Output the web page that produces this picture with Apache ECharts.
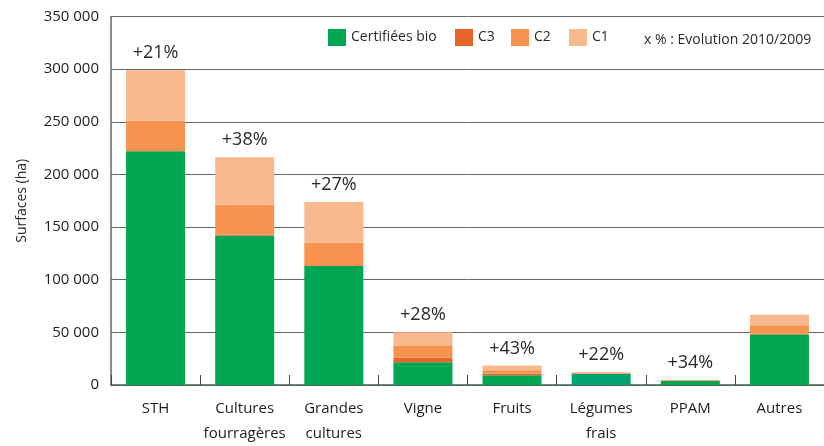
<!DOCTYPE html>
<html>
<head>
<meta charset="utf-8">
<script src="https://cdn.jsdelivr.net/npm/echarts@6/dist/echarts.min.js"></script>
<style>html,body{margin:0;padding:0;background:#fff}#c{width:824px;height:446px}</style>
</head>
<body>
<div id="c"></div>
<script>
const categories = ['STH', 'Cultures\nfourragères', 'Grandes\ncultures', 'Vigne', 'Fruits', 'Légumes\nfrais', 'PPAM', 'Autres'];
const bio = [222000, 142000, 113000, 21500, 9300, 10500, 3700, 48000];
const c3 = [1000, 800, 800, 4500, 1300, 300, 200, 800];
const c2 = [28000, 28500, 21500, 11000, 3400, 500, 500, 8000];
const c1 = [48000, 45000, 38500, 13000, 4600, 700, 600, 10000];
const evolution = ['+21%', '+38%', '+27%', '+28%', '+43%', '+22%', '+34%', ''];
const yTicks = [0, 50000, 100000, 150000, 200000, 250000, 300000, 350000];

const FONT = '"Open Sans", "Noto Sans", sans-serif';
const GREEN = '#00a651', TEAL = '#00a572', C3C = '#e8632a', C2C = '#f7934e', C1C = '#f9b98f';

const chart = echarts.init(document.getElementById('c'), null, {renderer: 'canvas'});
const legendBase = {
  top: 29, padding: 0, itemWidth: 18, itemHeight: 17, icon: 'rect',
  textStyle: {fontFamily: FONT, fontSize: 14, color: '#2a2a2a'}, selectedMode: false
};
chart.setOption({
  animation: false,
  textStyle: {fontFamily: FONT},
  grid: {left: 111, right: -3, top: 16.5, bottom: 53, containLabel: false},
  legend: [
    Object.assign({}, legendBase, {left: 328, data: ['Certifiées bio']}),
    Object.assign({}, legendBase, {left: 455, data: ['C3']}),
    Object.assign({}, legendBase, {left: 511, data: ['C2']}),
    Object.assign({}, legendBase, {left: 569, data: ['C1']})
  ],
  graphic: [{
    type: 'text', left: 644, top: 33,
    style: {text: 'x % : Evolution 2010/2009', fontFamily: FONT, fontSize: 14, fill: '#2a2a2a'}
  }],
  xAxis: {
    type: 'category', data: categories, boundaryGap: true,
    axisLine: {show: true, lineStyle: {color: '#4a6458', width: 1.5}},
    axisTick: {show: true, inside: true, length: 10, lineStyle: {color: '#444'}},
    axisLabel: {color: '#1e1e1e', fontSize: 15, lineHeight: 25, margin: 11, interval: 0, fontFamily: FONT}
  },
  yAxis: {
    type: 'value', min: yTicks[0], max: yTicks[yTicks.length - 1], interval: 50000,
    name: 'Surfaces (ha)', nameLocation: 'middle', nameGap: 82, nameRotate: 90,
    nameTextStyle: {fontSize: 14, color: '#2a2a2a', fontFamily: FONT},
    axisLine: {show: true, lineStyle: {color: '#666', width: 1.5}},
    axisTick: {show: false},
    axisLabel: {color: '#1e1e1e', fontSize: 15, margin: 12, fontFamily: FONT,
      formatter: v => String(v).replace(/\B(?=(\d{3})+(?!\d))/g, ' ')},
    splitLine: {show: true, lineStyle: {color: '#666', width: 1}}
  },
  series: [
    {name: 'Certifiées bio', type: 'bar', stack: 's', barWidth: 59, itemStyle: {color: GREEN},
      data: bio.map((v, i) => i === 5 ? {value: v, itemStyle: {color: TEAL}} : v)},
    {name: 'C3', type: 'bar', stack: 's', barWidth: 59, itemStyle: {color: C3C}, data: c3},
    {name: 'C2', type: 'bar', stack: 's', barWidth: 59, itemStyle: {color: C2C}, data: c2},
    {name: 'C1', type: 'bar', stack: 's', barWidth: 59, itemStyle: {color: C1C}, data: c1,
      label: {show: true, position: 'top', distance: 8, fontSize: 18, color: '#2a2a2a', fontFamily: FONT,
        formatter: p => evolution[p.dataIndex]}}
  ]
});
</script>
</body>
</html>
